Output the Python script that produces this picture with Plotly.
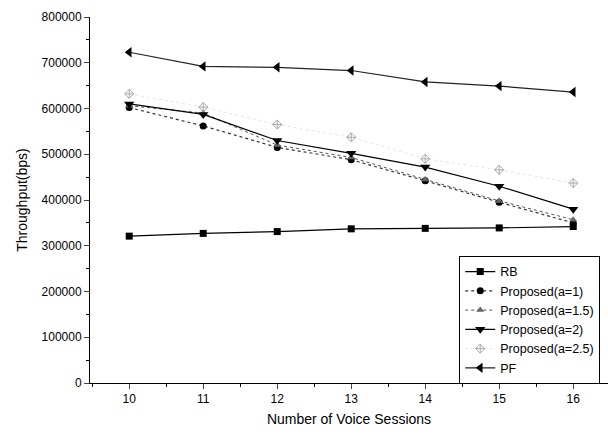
import plotly.graph_objects as go

sessions = [10, 11, 12, 13, 14, 15, 16]
rb = [321000, 327000, 331000, 337000, 338000, 339000, 342000]
prop_a1 = [602000, 562000, 515000, 488000, 442000, 395000, 350000]
prop_a15 = [606000, 590000, 520000, 493000, 445000, 398000, 357000]
prop_a2 = [610000, 587000, 530000, 502000, 472000, 430000, 380000]
prop_a25 = [632000, 603000, 565000, 537000, 490000, 466000, 437000]
pf = [723000, 692000, 690000, 683000, 658000, 649000, 636000]

fig = go.Figure()
series = [
    ("RB", rb, dict(color="black", width=1.2, dash="solid"), dict(symbol="square", size=7, color="black")),
    ("Proposed(a=1)", prop_a1, dict(color="#333333", width=1.2, dash="dot"), dict(symbol="circle", size=7, color="black")),
    ("Proposed(a=1.5)", prop_a15, dict(color="#555555", width=1, dash="dot"), dict(symbol="triangle-up", size=7, color="#666666")),
    ("Proposed(a=2)", prop_a2, dict(color="black", width=1.2, dash="solid"), dict(symbol="triangle-down", size=9, color="black")),
    ("Proposed(a=2.5)", prop_a25, dict(color="#e6e6e6", width=1, dash="dot"), dict(symbol="diamond-cross-open", size=7, color="#aaaaaa")),
    ("PF", pf, dict(color="#222222", width=1.2, dash="solid"), dict(symbol="triangle-left", size=9, color="black")),
]
for name, vals, line, marker in series:
    fig.add_trace(go.Scatter(x=sessions, y=vals, name=name, mode="lines+markers",
                             line=line, marker=marker))

fig.update_layout(
    width=608, height=436,
    margin=dict(l=90, r=0, t=17, b=53),
    paper_bgcolor="white", plot_bgcolor="white",
    font=dict(family="Liberation Sans, Arial, sans-serif", size=12, color="black"),
    showlegend=True,
    legend=dict(x=0.985, y=0.347, xanchor="right", yanchor="top",
                bordercolor="black", borderwidth=1, bgcolor="white",
                font=dict(size=12.5), tracegroupgap=0, itemwidth=30),
)
fig.update_xaxes(range=[9.47, 16.47], tickvals=sessions, ticks="outside", ticklen=5,
                 showline=True, linecolor="black", linewidth=1, showgrid=False, zeroline=False,
                 automargin=False,
                 minor=dict(dtick=0.5, tick0=9.5, ticks="outside", ticklen=3, tickcolor="black"),
                 title=dict(text="Number of Voice Sessions", font=dict(size=14), standoff=8),
                 tickfont=dict(size=12))
fig.update_yaxes(range=[0, 800000], dtick=100000, tickformat="d", ticks="outside", ticklen=5,
                 showline=True, linecolor="black", linewidth=1, showgrid=False, zeroline=False,
                 automargin=False,
                 minor=dict(dtick=50000, ticks="outside", ticklen=3, tickcolor="black"),
                 title=dict(text="Throughput(bps)", font=dict(size=14), standoff=10),
                 tickfont=dict(size=12))

fig.write_html("out.html", config={"displayModeBar": False},
               post_script="document.body.style.margin='0';document.body.style.padding='0';")
